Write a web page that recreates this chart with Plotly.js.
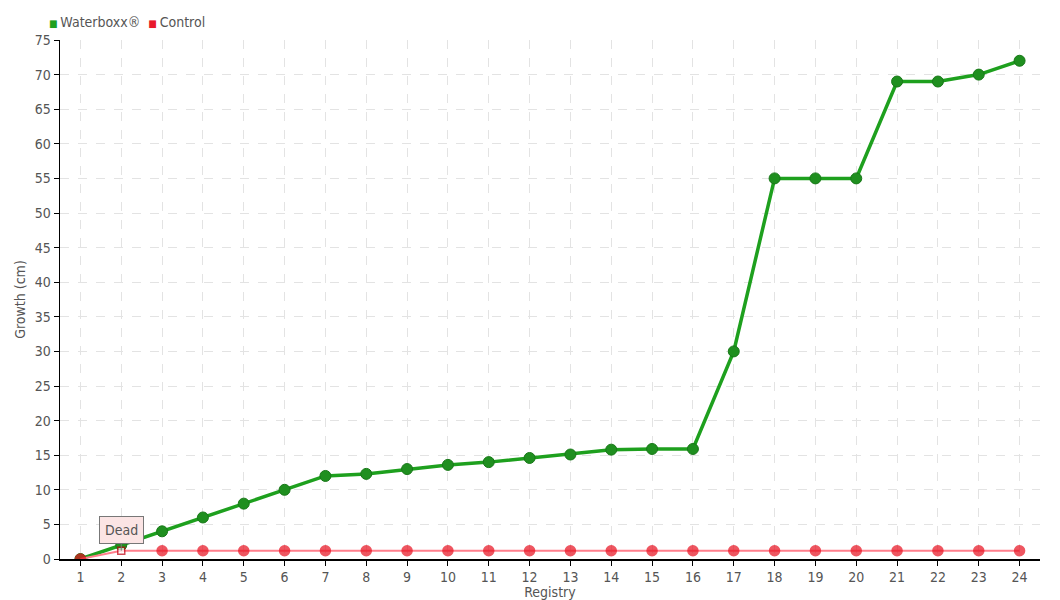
<!DOCTYPE html>
<html><head><meta charset="utf-8">
<script src="https://cdn.plot.ly/plotly-3.0.1.min.js"></script>
<style>html,body{margin:0;padding:0;background:#fff}#chart{width:1060px;height:600px}</style>
</head><body><div id="chart"></div>
<script>
const registry = [1,2,3,4,5,6,7,8,9,10,11,12,13,14,15,16,17,18,19,20,21,22,23,24];
const waterboxx = [0,2,4,6,8,10,12,12.3,13,13.6,14,14.6,15.1,15.8,15.9,15.9,30,55,55,55,69,69,70,72];
const control = [0,1.2,1.2,1.2,1.2,1.2,1.2,1.2,1.2,1.2,1.2,1.2,1.2,1.2,1.2,1.2,1.2,1.2,1.2,1.2,1.2,1.2,1.2,1.2];
const seriesNames = ['Waterboxx®','Control'];
const seriesColors = ['#1ea01e','#e8192c'];
const deadIndex = 1;
const deadLabel = 'Dead';

const F = '"DejaVu Sans Condensed", "Liberation Sans Narrow", sans-serif';
const ctrlSymbols = control.map((v,i)=> i===deadIndex ? 'square' : 'circle');
const ctrlColors = control.map((v,i)=> i===deadIndex ? '#ffffff' : '#e8101f');
const ctrlSizes = control.map((v,i)=> i===deadIndex ? 7 : 10);
const ctrlLineColors = control.map((v,i)=> i===deadIndex ? '#c00010' : '#e8101f');

const traces = [
  {x: registry, y: waterboxx, mode:'lines+markers', showlegend:false,
   line:{color:seriesColors[0], width:3.5},
   marker:{color:'#1f8f1f', size:11, line:{color:'#187818', width:1}}},
  {x: registry, y: control, mode:'lines+markers', showlegend:false,
   line:{color:'#ff7f8c', width:2},
   marker:{color:ctrlColors, symbol:ctrlSymbols, size:ctrlSizes, line:{color:ctrlLineColors, width:1.5}}}
];

const legendText = seriesNames.map((n,i)=>'<span style="color:'+seriesColors[i]+';font-size:10px">■ </span>'+n).join('  ');

const layout = {
  width:1060, height:600,
  margin:{l:60, r:20, t:40, b:41},
  paper_bgcolor:'#fff', plot_bgcolor:'#fff',
  font:{family:F, size:14, color:'#555'},
  showlegend:false,
  xaxis:{range:[0.5,24.5], tickmode:'array', tickvals:registry, ticktext:registry.map(String),
         showgrid:true, gridcolor:'#e3e3e3', griddash:'dash', gridwidth:1,
         showline:true, linecolor:'#000', linewidth:1.5, ticks:'outside', ticklen:5, tickcolor:'#000',
         zeroline:false, title:{text:'Registry', standoff:0, font:{family:F,size:14,color:'#555'}}},
  yaxis:{range:[0,75], dtick:5, tick0:0,
         showgrid:true, gridcolor:'#e3e3e3', griddash:'dash', gridwidth:1,
         showline:true, linecolor:'#000', linewidth:1.5, ticks:'outside', ticklen:5, tickcolor:'#000',
         zeroline:false, title:{text:'Growth (cm)', standoff:6, font:{family:F,size:14,color:'#555'}}},
  annotations:[
   {x:registry[deadIndex], y:control[deadIndex], xref:'x', yref:'y', text:deadLabel,
    showarrow:true, arrowhead:0, arrowwidth:1, arrowcolor:'#777', ax:0, ay:-21,
    bgcolor:'#fbe4e4', bordercolor:'#777', borderwidth:1, borderpad:5,
    font:{family:F, size:14, color:'#555'}},
   {x:0, y:1, xref:'paper', yref:'paper', xshift:-13, yshift:8, xanchor:'left', yanchor:'bottom',
    text:legendText, showarrow:false, font:{family:F, size:14, color:'#555'}}
  ]
};
Plotly.newPlot('chart', traces, layout, {displayModeBar:false, staticPlot:true});
</script></body></html>
